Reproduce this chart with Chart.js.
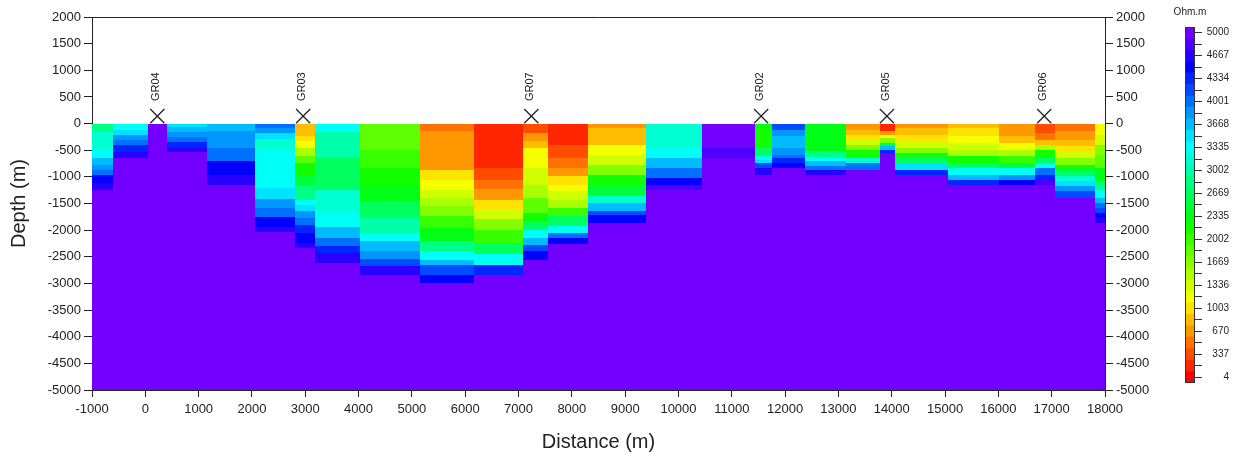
<!DOCTYPE html>
<html>
<head>
<meta charset="utf-8">
<title>Resistivity section</title>
<script src="https://cdn.jsdelivr.net/npm/chart.js@4.4.0/dist/chart.umd.min.js"></script>
<style>
  html, body { margin: 0; padding: 0; background: #fff; }
  #wrap { position: relative; width: 1241px; height: 456px; }
  #main { position: absolute; left: 0; top: 0; }
  #cbar { position: absolute; left: 1160px; top: 0; }
</style>
</head>
<body>
<div id="wrap">
  <canvas id="main" width="1241" height="456"></canvas>
  <canvas id="cbar" width="81" height="400"></canvas>
</div>
<script>
"use strict";

// ─── Data ──────────────────────────────────────────────────────────────────
// column edges along the profile (m)
const COL_EDGES = [-1000, -600, 50, 400, 1150, 2050, 2800, 3180, 4030, 5150, 6170,
  7080, 7550, 8300, 9400, 10450, 11430, 11760, 12380, 13140, 13780, 14070,
  15050, 16020, 16690, 17060, 17820, 18000];

// bottom depth of each layer, per column (m)
const LAYER_DEPTHS = [
  [-145, -333, -489, -645, -770, -864, -958, -1114, -1240],
  [-120, -214, -308, -401, -527, -651],
  [],
  [-58, -152, -246, -340, -465, -527],
  [-145, -458, -708, -958, -1145],
  [-85, -180, -290, -480, -1200, -1420, -1590, -1760, -1950, -2030],
  [-145, -239, -333, -458, -614, -739, -958, -1145, -1426, -1520, -1645, -1770, -1895, -2051, -2239, -2333],
  [-150, -650, -1250, -1650, -1950, -2150, -2300, -2430, -2620],
  [-500, -830, -1150, -1450, -1770, -2050, -2200, -2400, -2550, -2680, -2840],
  [-145, -645, -864, -1051, -1239, -1395, -1551, -1739, -1958, -2208, -2395, -2551, -2645, -2833, -2989],
  [-840, -1050, -1220, -1430, -1600, -1800, -2000, -2250, -2450, -2650, -2840],
  [-176, -239, -333, -458, -833, -1145, -1395, -1676, -1833, -1989, -2145, -2270, -2395, -2551],
  [-395, -645, -833, -989, -1145, -1270, -1426, -1583, -1739, -1926, -2051, -2145, -2258],
  [-83, -395, -583, -770, -958, -1145, -1364, -1489, -1645, -1708, -1864],
  [-458, -645, -833, -1020, -1145, -1239],
  [-458, -645],
  [-83, -458, -614, -676, -739, -833, -958],
  [-114, -239, -458, -583, -645, -739, -833],
  [-520, -620, -700, -800, -880, -960],
  [-114, -208, -301, -395, -489, -645, -739, -864],
  [-145, -208, -270, -364, -426, -489, -551],
  [-83, -208, -333, -458, -551, -645, -739, -864, -958],
  [-83, -239, -364, -489, -614, -739, -833, -958, -1051, -1145],
  [-239, -364, -489, -614, -739, -833, -958, -1051, -1145],
  [-176, -301, -395, -489, -645, -739, -833, -958, -1051, -1145],
  [-145, -301, -426, -520, -645, -770, -864, -989, -1083, -1176, -1270, -1395],
  [-208, -395, -583, -833, -1083, -1239, -1395, -1489, -1583, -1676, -1770, -1864],
];

// resistivity of each layer (Ohm.m), same shape as LAYER_DEPTHS
const LAYER_RHO = [
  [2900, 3100, 3250, 3400, 3600, 3850, 4000, 4450, 4700],
  [3330, 3550, 3780, 4000, 4400, 4700],
  [],
  [3500, 3620, 3780, 4000, 4300, 4680],
  [3720, 3800, 4050, 4420, 4720],
  [4050, 3800, 3570, 3150, 3330, 3550, 3800, 4050, 4420, 4700],
  [780, 900, 1050, 1250, 1550, 1850, 2200, 2500, 2870, 3300, 3550, 3780, 4000, 4300, 4450, 4700],
  [3320, 2950, 2700, 3100, 3400, 3650, 3950, 4300, 4650],
  [1850, 2050, 2230, 2380, 2650, 3050, 3380, 3620, 3880, 4250, 4650],
  [450, 590, 740, 950, 1110, 1330, 1480, 1700, 2000, 2300, 2850, 3350, 3600, 4100, 4550],
  [230, 330, 500, 720, 920, 1300, 1650, 2000, 2650, 3300, 4350],
  [370, 590, 740, 900, 1110, 1330, 1550, 1850, 2150, 2750, 3300, 3700, 4100, 4500],
  [230, 330, 560, 740, 920, 1110, 1330, 1550, 2000, 2750, 3300, 4000, 4550],
  [740, 890, 1110, 1330, 1630, 2100, 2550, 3100, 3600, 4100, 4550],
  [3100, 3300, 3600, 4000, 4450, 4800],
  [5000, 4800],
  [2400, 2150, 2750, 3300, 3550, 4100, 4650],
  [4150, 3850, 3700, 3850, 4000, 4400, 4550],
  [2280, 2900, 3300, 3600, 3950, 4650],
  [590, 820, 1050, 1330, 1630, 2100, 3100, 3950],
  [230, 590, 1110, 1630, 2550, 3600, 4300],
  [590, 820, 1050, 1330, 1700, 2100, 2700, 3550, 4400],
  [890, 950, 1110, 1330, 1550, 2100, 2750, 3300, 3700, 4300],
  [590, 890, 1250, 1550, 2000, 2550, 3300, 3850, 4450],
  [300, 520, 890, 1480, 2100, 2750, 3400, 3950, 4350, 4800],
  [520, 680, 820, 950, 1330, 1630, 2100, 2750, 3250, 3450, 3850, 4200],
  [1110, 1330, 1630, 1900, 2300, 2850, 3300, 3600, 3950, 4150, 4450, 4750],
];

const BASE_RHO    = 5000;   // half-space below every column
const BASE_DEPTH  = -5000;

// electrical soundings
const STATION_NAMES = ["GR04", "GR03", "GR07", "GR02", "GR05", "GR06"];
const STATION_X     = [225, 2960, 7240, 11550, 13910, 16860];
const STATION_Y     = 140;

// colour scale labels (Ohm.m)
const CBAR_TICKS = [4, 337, 670, 1003, 1336, 1669, 2002, 2335, 2669, 3002, 3335, 3668, 4001, 4334, 4667, 5000];

// ─── Helpers ───────────────────────────────────────────────────────────────
const RHO_MIN  = CBAR_TICKS[0];
const RHO_MAX  = CBAR_TICKS[CBAR_TICKS.length - 1];
const STEP     = CBAR_TICKS[1] - CBAR_TICKS[0];
const N_LEVELS = (CBAR_TICKS.length - 1) * 2;      // colour classes (half a label step each)
const HALF     = (RHO_MAX - RHO_MIN) / N_LEVELS;

function rhoLevel(v) {
  return Math.min(N_LEVELS, Math.max(0, Math.round((v - RHO_MIN) / HALF)));
}

function rhoColour(v) {
  return `hsl(${(267 * rhoLevel(v) / N_LEVELS).toFixed(1)}, 100%, 50%)`;
}

const FONT = "Arial, 'Liberation Sans', sans-serif";
const INK  = "#222";

// ─── Section cells drawn through the chart's scales ───────────────────────
function fillCell(ctx, xs, ys, x0, x1, d0, d1, rho) {
  const px0 = Math.round(xs.getPixelForValue(x0));
  const px1 = Math.round(xs.getPixelForValue(x1));
  const py0 = Math.round(ys.getPixelForValue(d0));
  const py1 = Math.round(ys.getPixelForValue(d1));
  ctx.fillStyle = rhoColour(rho);
  ctx.fillRect(px0, py0, px1 - px0, py1 - py0);
}

const sectionPlugin = {
  id: "section",
  beforeDatasetsDraw(chart) {
    const { ctx, scales: { x, y } } = chart;
    ctx.save();
    fillCell(ctx, x, y, COL_EDGES[0], COL_EDGES[COL_EDGES.length - 1], 0, BASE_DEPTH, BASE_RHO);
    LAYER_DEPTHS.forEach((depths, i) => {
      let top = 0;
      depths.forEach((bottom, j) => {
        fillCell(ctx, x, y, COL_EDGES[i], COL_EDGES[i + 1], top, bottom, LAYER_RHO[i][j]);
        top = bottom;
      });
    });
    ctx.restore();
  },
  afterDatasetsDraw(chart) {
    const { ctx, chartArea, scales: { x, y } } = chart;
    ctx.save();
    // top frame line
    ctx.strokeStyle = INK;
    ctx.lineWidth = 1;
    ctx.beginPath();
    ctx.moveTo(chartArea.left, chartArea.top + 0.5);
    ctx.lineTo(chartArea.right, chartArea.top + 0.5);
    ctx.stroke();
    // station names
    ctx.fillStyle = INK;
    ctx.font = `11px ${FONT}`;
    ctx.textAlign = "left";
    ctx.textBaseline = "middle";
    STATION_NAMES.forEach((name, i) => {
      const px = x.getPixelForValue(STATION_X[i]);
      const py = y.getPixelForValue(STATION_Y);
      ctx.save();
      ctx.translate(px - 1, py - 15);
      ctx.rotate(-Math.PI / 2);
      ctx.fillText(name, 0, 0);
      ctx.restore();
    });
    ctx.restore();
  },
};

const plain = v => String(v);

function depthAxis(position, width, title) {
  return {
    type: "linear",
    position,
    min: BASE_DEPTH,
    max: 2000,
    ticks: { stepSize: 500, color: INK, padding: 3, callback: plain, font: { family: FONT, size: 13 } },
    grid: { drawOnChartArea: false, tickLength: 8, color: INK },
    border: { color: INK },
    title: title ? { display: true, text: title, color: INK, font: { family: FONT, size: 20 }, padding: { top: 7, bottom: 6 } } : { display: false },
    afterFit: s => { s.width = width; },
  };
}

new Chart(document.getElementById("main"), {
  type: "scatter",
  data: {
    datasets: [{
      label: "Stations",
      data: STATION_X.map(x => ({ x, y: STATION_Y })),
      pointStyle: "crossRot",
      radius: 10,
      borderColor: INK,
      backgroundColor: "transparent",
      borderWidth: 1.3,
    }],
  },
  options: {
    responsive: false,
    animation: false,
    layout: { padding: { left: 0, right: 86, top: 17, bottom: 0 } },
    plugins: { legend: { display: false }, tooltip: { enabled: false } },
    scales: {
      x: {
        type: "linear",
        min: COL_EDGES[0],
        max: COL_EDGES[COL_EDGES.length - 1],
        ticks: { stepSize: 1000, color: INK, padding: 5, maxRotation: 0, callback: plain, font: { family: FONT, size: 13 } },
        grid: { drawOnChartArea: false, tickLength: 7, color: INK },
        border: { color: INK },
        title: { display: true, text: "Distance (m)", color: INK, font: { family: FONT, size: 20 }, padding: { top: 4, bottom: 2 } },
        afterFit: s => { s.height = 66; },
      },
      y: depthAxis("left", 92, "Depth (m)"),
      y2: depthAxis("right", 50, null),
    },
  },
  plugins: [sectionPlugin],
});

// ─── Colour bar ────────────────────────────────────────────────────────────
const LEVELS = Array.from({ length: N_LEVELS + 1 }, (_, k) => RHO_MIN + k * HALF);

const cbarPlugin = {
  id: "cbarTitle",
  afterDraw(chart) {
    const { ctx, chartArea } = chart;
    ctx.save();
    ctx.strokeStyle = "#333";
    ctx.lineWidth = 1;
    ctx.strokeRect(chartArea.left + 0.5, chartArea.top + 0.5, chartArea.width - 1, chartArea.height - 1);
    ctx.fillStyle = INK;
    ctx.font = `10px ${FONT}`;
    ctx.textAlign = "center";
    ctx.textBaseline = "middle";
    ctx.fillText("Ohm.m", (chartArea.left + chartArea.right) / 2, 12);
    ctx.restore();
  },
};

new Chart(document.getElementById("cbar"), {
  type: "bar",
  data: {
    labels: [""],
    datasets: LEVELS.map(v => ({
      data: [[v - HALF / 2, v + HALF / 2]],
      backgroundColor: rhoColour(v),
      borderWidth: 0,
      barPercentage: 1,
      categoryPercentage: 1,
    })),
  },
  options: {
    responsive: false,
    animation: false,
    layout: { padding: { left: 25, right: 12, top: 27, bottom: 17 } },
    plugins: { legend: { display: false }, tooltip: { enabled: false } },
    scales: {
      x: { display: false, stacked: true },
      y: {
        position: "right",
        min: RHO_MIN - HALF / 2,
        max: RHO_MAX + HALF / 2,
        afterBuildTicks: s => { s.ticks = LEVELS.map(v => ({ value: v })); },
        ticks: {
          color: INK,
          padding: 3,
          crossAlign: "far",
          autoSkip: false,
          font: { family: FONT, size: 10 },
          callback: (v, i) => (i % 2 === 0 ? String(CBAR_TICKS[i / 2]) : ""),
        },
        grid: { drawOnChartArea: false, tickLength: 7, color: "#333" },
        border: { display: false },
        afterFit: s => { s.width = 34; },
      },
    },
  },
  plugins: [cbarPlugin],
});
</script>
</body>
</html>
